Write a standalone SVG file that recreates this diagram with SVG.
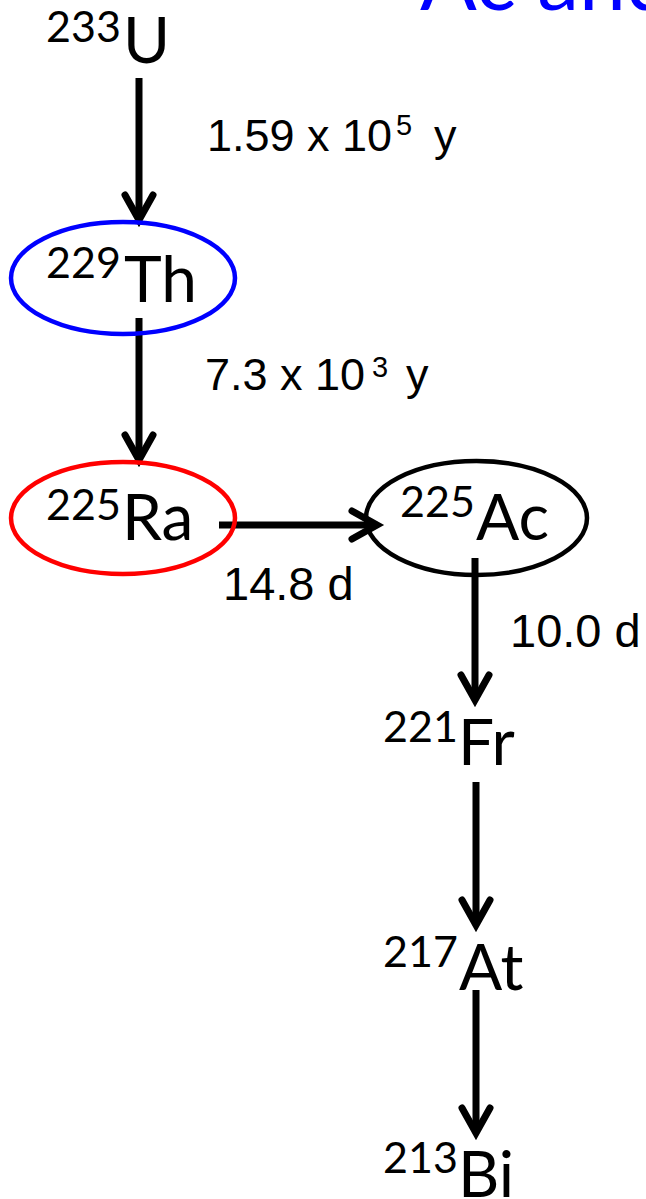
<svg xmlns="http://www.w3.org/2000/svg" width="646" height="1199" viewBox="0 0 646 1199">
<style>
.nuc{font-family:Lato,"Open Sans","Liberation Sans",sans-serif;fill:#000}
.big{font-size:64px}
.sup{font-size:43px}
.hl{font-family:"Liberation Sans",Arial,sans-serif;font-size:45px;fill:#000}
.hd{font-family:"Liberation Sans",Arial,sans-serif;font-size:47px;fill:#000}
.hs{font-family:"Liberation Sans",Arial,sans-serif;font-size:29px;fill:#000}
.title{font-family:Lato,"Open Sans","Liberation Sans",sans-serif;font-size:84px;fill:#0000FF}
.ell{fill:none;stroke-width:4.5}
.conn{fill:none;stroke:#000;stroke-width:7;marker-end:url(#arr)}
</style>
<defs>
<marker id="arr" markerUnits="userSpaceOnUse" viewBox="-32 -20 40 40" markerWidth="40" markerHeight="40" refX="-3" refY="0" orient="auto" overflow="visible">
<path d="M-25,-14 L0,0 L-25,14" fill="none" stroke="#000" stroke-width="7" stroke-linecap="round" stroke-linejoin="miter"/>
</marker>
</defs>
<text class="title" x="420" y="10">Ac and</text>
<g id="connectors">
<path class="conn" d="M139,78 V217"/>
<path class="conn" d="M139,318 V457"/>
<path class="conn" d="M219,525 H374"/>
<path class="conn" d="M475,558 V697"/>
<path class="conn" d="M476,782 V922"/>
<path class="conn" d="M476,990 V1130"/>
</g>
<g id="labels">
<text class="hl" x="207" y="151">1.59 x 10</text><text class="hs" x="396" y="135">5</text><text class="hl" x="434" y="151">y</text>
<text class="hl" x="205" y="390">7.3 x 10</text><text class="hs" x="372" y="377">3</text><text class="hl" x="406" y="390">y</text>
<text class="hd" x="223" y="600">14.8 d</text>
<text class="hd" x="510" y="647">10.0 d</text>
</g>
<g id="U233">
<text class="nuc sup" x="46" y="42">233</text><text class="nuc big" x="123" y="63">U</text>
</g>
<g id="Th229">
<ellipse class="ell" cx="123" cy="278" rx="112" ry="56" stroke="#0000FF"/>
<text class="nuc sup" x="46" y="278">229</text><text class="nuc big" x="124" y="302">Th</text>
</g>
<g id="Ra225">
<ellipse class="ell" cx="123" cy="518" rx="112" ry="56" stroke="#FF0000"/>
<text class="nuc sup" x="46" y="520">225</text><text class="nuc big" x="122" y="540">Ra</text>
</g>
<g id="Ac225">
<ellipse class="ell" cx="476.5" cy="518" rx="110.5" ry="57" stroke="#000"/>
<text class="nuc sup" x="400" y="517">225</text><text class="nuc big" x="476" y="540">Ac</text>
</g>
<g id="Fr221">
<text class="nuc sup" x="383" y="742">221</text><text class="nuc big" x="458" y="765">Fr</text>
</g>
<g id="At217">
<text class="nuc sup" x="383" y="967">217</text><text class="nuc big" x="459" y="990">At</text>
</g>
<g id="Bi213">
<text class="nuc sup" x="383" y="1173">213</text><text class="nuc big" x="458" y="1197">Bi</text>
</g>
</svg>
